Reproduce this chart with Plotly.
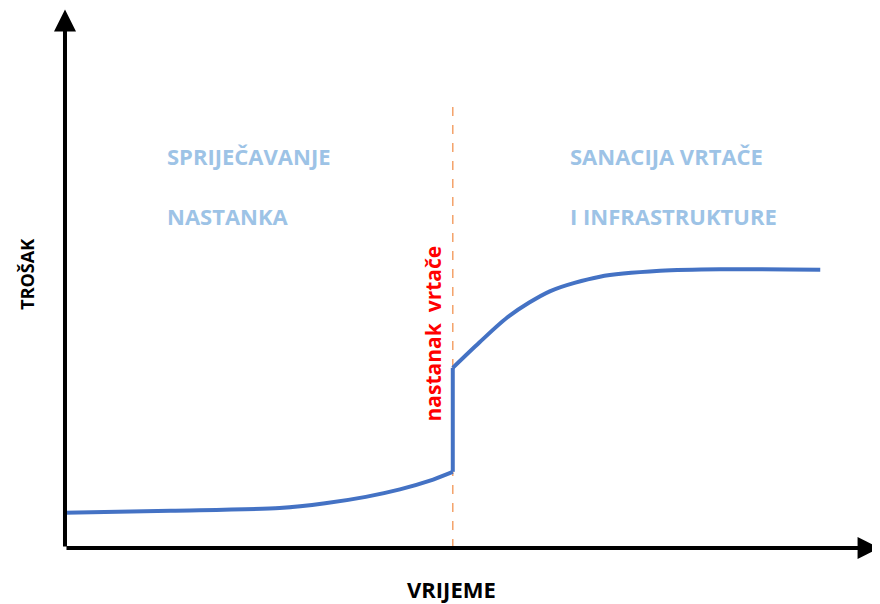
import plotly.graph_objects as go

# cost curve (time 0..100, cost 0..100)
before_x = [0, 13.0, 26.4, 32.0, 37.0, 41.2, 44.8, 47.7]
before_y = [6.6, 7.0, 7.5, 8.4, 9.6, 11.0, 12.6, 14.3]
jump_x = [47.7, 47.7]
jump_y = [14.3, 33.8]
after_x = [47.7, 51.0, 54.7, 59.7, 65.8, 73.2, 80.6, 92.9]
after_y = [33.8, 38.6, 43.6, 48.2, 50.9, 52.0, 52.3, 52.2]
event_x = 47.7
event_top = 84

left_labels = ['SPRIJEČAVANJE', 'NASTANKA']
right_labels = ['SANACIJA VRTAČE', 'I INFRASTRUKTURE']

blue = dict(color='#4472C4', width=4)
fig = go.Figure()
fig.add_trace(go.Scatter(x=before_x, y=before_y, mode='lines', line=dict(shape='spline', smoothing=0.8, **blue),
                         showlegend=False))
fig.add_trace(go.Scatter(x=jump_x, y=jump_y, mode='lines', line=blue, showlegend=False))
fig.add_trace(go.Scatter(x=after_x, y=after_y, mode='lines', line=dict(shape='spline', smoothing=0.8, **blue),
                         showlegend=False))

# dashed marker for sinkhole occurrence
fig.add_shape(type='line', x0=event_x, x1=event_x, y0=0, y1=event_top,
              line=dict(color='#F4A26A', width=1.5, dash='dash'), layer='below')

# axes with arrows
fig.add_annotation(x=0, y=101, ax=0, ay=0, xref='x', yref='y', axref='x', ayref='y',
                   showarrow=True, arrowhead=2, arrowsize=1.1, arrowwidth=4, arrowcolor='black', text='')
fig.add_annotation(x=100.2, y=0, ax=0, ay=0, xref='x', yref='y', axref='x', ayref='y',
                   showarrow=True, arrowhead=2, arrowsize=1.1, arrowwidth=4, arrowcolor='black', text='')

lab_font = dict(family='Open Sans', size=22, color='#9DC3E6')
for i, t in enumerate(left_labels):
    fig.add_annotation(x=12.3, y=73.6 - i * 11.4, text='<b>' + t + '</b>', showarrow=False,
                       xanchor='left', font=lab_font)
for i, t in enumerate(right_labels):
    fig.add_annotation(x=61.9, y=73.6 - i * 11.4, text='<b>' + t + '</b>', showarrow=False,
                       xanchor='left', font=lab_font)

fig.add_annotation(x=45.3, y=40.3, text='<b>nastanak  vrtače</b>', textangle=-90, showarrow=False,
                   font=dict(family='Open Sans', size=21, color='#FF0000'))
fig.add_annotation(x=-4.7, y=51.4, text='<b>TROŠAK</b>', textangle=-90, showarrow=False,
                   font=dict(family='Open Sans', size=18, color='black'))
fig.add_annotation(x=47.5, y=-7.6, text='<b>VRIJEME</b>', showarrow=False,
                   font=dict(family='Open Sans', size=22, color='black'))

# page has an 8px body margin, so the figure is 8px smaller than the window
fig.update_xaxes(range=[-7.01, 100.25], visible=False)
fig.update_yaxes(range=[-10.5, 101.3], visible=False)
fig.update_layout(width=872, height=596, margin=dict(l=0, r=0, t=0, b=0),
                  plot_bgcolor='white', paper_bgcolor='white')
fig.write_html('out.html')
